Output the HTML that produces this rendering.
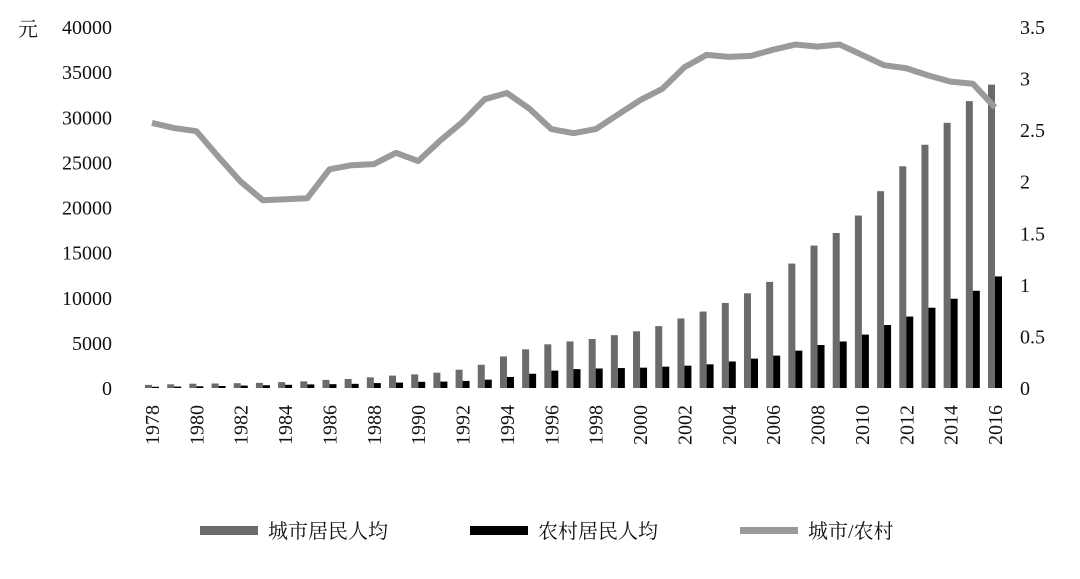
<!DOCTYPE html>
<html><head><meta charset="utf-8"><style>
html,body{margin:0;padding:0;background:#fff;}
svg text{font-family:"Liberation Serif","Noto Serif CJK SC",serif;fill:#111;}
</style></head><body>
<svg width="1080" height="574" viewBox="0 0 1080 574">
<g id="axes"></g><g id="bars"></g><g id="line"></g>
<g>
 <rect x="200" y="526" width="58" height="9" fill="#6b6b6b"/>
 <text x="268" y="538" font-size="20">城市居民人均</text>
 <rect x="470" y="526" width="58" height="9" fill="#000"/>
 <text x="538" y="538" font-size="20">农村居民人均</text>
 <rect x="740" y="527" width="58" height="7" fill="#9a9a9a"/>
 <text x="808" y="538" font-size="20">城市/农村</text>
</g>
<text x="18" y="36" font-size="20">元</text>
</svg>
<script>
const years=[];for(let y=1978;y<=2016;y++)years.push(y);
const urban=[343,405,478,500,535,565,652,739,900,1002,1180,1374,1510,1700,2027,2577,3496,4283,4839,5160,5425,5854,6280,6860,7703,8472,9422,10493,11759,13786,15781,17175,19109,21810,24565,26955,29381,31790,33616];
const rural=[134,160,191,223,270,310,355,398,424,463,545,602,686,709,784,922,1221,1578,1926,2090,2162,2210,2253,2366,2476,2622,2936,3255,3587,4140,4761,5153,5919,6977,7917,8896,9892,10772,12363];
const ratio=[2.57,2.52,2.49,2.24,2.0,1.82,1.83,1.84,2.12,2.16,2.17,2.28,2.2,2.4,2.58,2.8,2.86,2.71,2.51,2.47,2.51,2.65,2.79,2.9,3.11,3.23,3.21,3.22,3.28,3.33,3.31,3.33,3.23,3.13,3.1,3.03,2.97,2.95,2.72];
const leftTicks=[0,5000,10000,15000,20000,25000,30000,35000,40000];
const rightTicks=["0","0.5","1","1.5","2","2.5","3","3.5"];
const NS='http://www.w3.org/2000/svg';
const y0=388,yTop=27;
const yL=v=>y0-(y0-yTop)*v/40000;
const yR=v=>y0-(y0-yTop)*v/3.5;
const xC=i=>152+i*(995-152)/(years.length-1);
function mk(t,a,p){const e=document.createElementNS(NS,t);for(const k in a)e.setAttribute(k,a[k]);p.appendChild(e);return e;}
const ax=document.getElementById('axes');
leftTicks.forEach(v=>{const t=mk('text',{x:112,y:yL(v)+7,'font-size':20,'text-anchor':'end'},ax);t.textContent=v;

});
rightTicks.forEach(v=>{const t=mk('text',{x:1020,y:yR(+v)+7,'font-size':20},ax);t.textContent=v;

});
years.forEach((yr,i)=>{if(i%2)return;const x=xC(i);const t=mk('text',{x:0,y:0,'font-size':20,'text-anchor':'end',transform:`translate(${x+7},405) rotate(-90)`},ax);t.textContent=yr;

});
const bg=document.getElementById('bars');
years.forEach((yr,i)=>{const x=xC(i);
const a=mk('rect',{x:x-7,y:yL(urban[i]),width:7,height:y0-yL(urban[i]),fill:'#6b6b6b'},bg);


const b=mk('rect',{x:x,y:yL(rural[i]),width:7,height:y0-yL(rural[i]),fill:'#000'},bg);

});
const pts=ratio.map((v,i)=>xC(i)+','+yR(v)).join(' ');
const pl=mk('polyline',{points:pts,fill:'none',stroke:'#9a9a9a','stroke-width':6,'stroke-linejoin':'round'},document.getElementById('line'));


</script>
</body></html>
